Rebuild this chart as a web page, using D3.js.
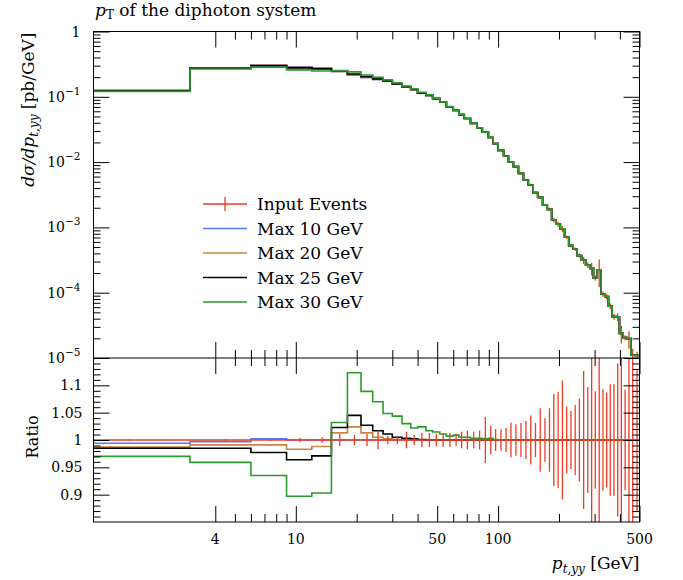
<!DOCTYPE html>
<html>
<head>
<meta charset="utf-8">
<script src="https://cdn.jsdelivr.net/npm/d3@7"></script>
<style>
  body { margin: 0; background: #fff; }
  svg text { font-family: "DejaVu Serif", "Liberation Serif", serif; fill: #000; }
</style>
</head>
<body>
<div id="chart"></div>
<script>
// Bin edges of the p_T(yy) histogram [GeV]
const binEdges = [0, 3, 6, 9, 12, 15, 18, 21, 24, 27, 30, 33.5, 37, 40, 44, 47.5, 51.5, 55.5, 60, 64,
  68, 73, 78.5, 83.5, 89.5, 94.5, 100, 106.5, 112.5, 119, 126, 133.5, 141, 149, 157, 166, 175, 184,
  193, 203, 213, 223.5, 235, 246, 258.5, 271, 284, 296, 309, 323, 337, 351, 366, 382, 398, 415, 434,
  453, 473, 500];

// Input events, dsigma/dpT [pb/GeV]
const inputEvents = [0.125, 0.278, 0.305, 0.288, 0.275, 0.245, 0.214, 0.198, 0.185, 0.173,
  0.157, 0.142, 0.129, 0.114, 0.105, 0.0936, 0.0825, 0.0701, 0.0621, 0.0535,
  0.0465, 0.0393, 0.0334, 0.0287, 0.0238, 0.0192, 0.0151, 0.0124, 0.0101, 0.0085,
  0.00673, 0.00532, 0.00446, 0.0034, 0.00289, 0.00222, 0.00189, 0.0013, 0.00112, 0.00095,
  0.00071, 0.000525, 0.000463, 0.00037, 0.000315, 0.000265, 0.000235, 0.000168, 0.000223, 0.0000955,
  0.000087, 0.0000625, 0.000043, 0.0000425, 0.0000239, 0.0000205, 0.0000198, 0.0000111, 0.000011];

// Relative uncertainty of the input events
const inputErrors = [0.0015, 0.002, 0.002, 0.004, 0.005, 0.011, 0.0097, 0.011, 0.0176, 0.0073,
  0.008, 0.015, 0.009, 0.013, 0.013, 0.0115, 0.0127, 0.013, 0.0115, 0.015,
  0.017, 0.015, 0.017, 0.042, 0.026, 0.02, 0.019, 0.022, 0.0315, 0.029,
  0.031, 0.035, 0.045, 0.031, 0.058, 0.04, 0.058, 0.084, 0.088, 0.109,
  0.061, 0.053, 0.064, 0.076, 0.126, 0.097, 0.22, 0.089, 0.45, 0.093,
  0.087, 0.102, 0.102, 0.14, 0.3, 0.092, 0.3, 0.25, 0.13];

// Ratios to the input events
const ratioMax10 = [0.994, 0.997, 1.002, 1.0, 1.0, 1.0, 1.0, 1.0, 1.0, 1.0,
  1.0, 1.0, 1.0, 1.0, 1.0, 1.0, 1.0, 1.0, 1.0, 1.0,
  1.0, 1.0, 1.0, 1.0, 1.0, 1.0, 1.0, 1.0, 1.0, 1.0,
  1.0, 1.0, 1.0, 1.0, 1.0, 1.0, 1.0, 1.0, 1.0, 1.0,
  1.0, 1.0, 1.0, 1.0, 1.0, 1.0, 1.0, 1.0, 1.0, 1.0,
  1.0, 1.0, 1.0, 1.0, 1.0, 1.0, 1.0, 1.0, 1.0];
const ratioMax20 = [0.987, 0.991, 0.991, 0.983, 0.988, 1.013, 1.024, 1.013, 1.005, 1.002,
  1.001, 1.0, 1.0, 1.0, 1.0, 1.0, 1.0, 1.0, 1.0, 1.0,
  1.0, 1.0, 1.0, 1.0, 1.0, 1.0, 1.0, 1.0, 1.0, 1.0,
  1.0, 1.0, 1.0, 1.0, 1.0, 1.0, 1.0, 1.0, 1.0, 1.0,
  1.0, 1.0, 1.0, 1.0, 1.0, 1.0, 1.0, 1.0, 1.0, 1.0,
  1.0, 1.0, 1.0, 1.0, 1.0, 1.0, 1.0, 1.0, 1.0];
const ratioMax25 = [0.985, 0.985, 0.977, 0.964, 0.971, 1.023, 1.045, 1.027, 1.017, 1.011,
  1.005, 1.003, 1.002, 1.001, 1.0, 1.0, 1.0, 1.0, 1.0, 1.0,
  1.0, 1.0, 1.0, 1.0, 1.0, 1.0, 1.0, 1.0, 1.0, 1.0,
  1.0, 1.0, 1.0, 1.0, 1.0, 1.0, 1.0, 1.0, 1.0, 1.0,
  1.0, 1.0, 1.0, 1.0, 1.0, 1.0, 1.0, 1.0, 1.0, 1.0,
  1.0, 1.0, 1.0, 1.0, 1.0, 1.0, 1.0, 1.0, 1.0];
const ratioMax30 = [0.97, 0.959, 0.935, 0.897, 0.903, 1.032, 1.123, 1.089, 1.07, 1.0485,
  1.0436, 1.03, 1.022, 1.024, 1.017, 1.0145, 1.011, 1.007, 1.009, 1.005,
  1.005, 1.003, 1.003, 1.002, 1.003, 1.001, 1.0, 1.0, 1.0, 1.0,
  1.0, 1.0, 1.0, 1.0, 1.0, 1.0, 1.0, 1.0, 1.0, 1.0,
  1.0, 1.0, 1.0, 1.0, 1.0, 1.0, 1.0, 1.0, 1.0, 1.0,
  1.0, 1.0, 1.0, 1.0, 1.0, 1.0, 1.0, 1.0, 1.0];

const seriesNames = ["Input Events", "Max 10 GeV", "Max 20 GeV", "Max 25 GeV", "Max 30 GeV"];
const seriesColors = ["#ee3b22", "#4d7cff", "#cd8240", "#000000", "#2b9b2b"];

// Axis ticks
const xMajorTicks = [4, 10, 50, 100, 500];
const xMinorTicks = [5, 6, 7, 8, 9, 20, 30, 40, 60, 70, 80, 90, 200, 300, 400];
const yMainExponents = [0, -1, -2, -3, -4, -5];
const yRatioMajor = [0.9, 0.95, 1, 1.05, 1.1];
const yRatioLabels = ["0.9", "0.95", "1", "1.05", "1.1"];

class DiphotonPlot {
  constructor(_parentElement) {
    this.parentElement = _parentElement;
    this.initVis();
  }

  initVis() {
    let vis = this;

    vis.frame = { left: 93.5, right: 639.5, top: 31.5, split: 358, bottom: 522 };

    vis.svg = d3.select("#" + vis.parentElement)
      .append("svg")
      .attr("width", 683)
      .attr("height", 580);

    // Scales
    vis.x = d3.scaleLog().domain([1, 500]).range([vis.frame.left, vis.frame.right]);
    vis.yMain = d3.scaleLog().domain([1e-5, 1]).range([vis.frame.split, vis.frame.top]);
    vis.yRatio = d3.scaleLinear().domain([0.85, 1.15]).range([vis.frame.bottom, vis.frame.split]);

    // Clip paths for the two panels
    let defs = vis.svg.append("defs");
    defs.append("clipPath").attr("id", "clip-main").append("rect")
      .attr("x", vis.frame.left).attr("y", vis.frame.top)
      .attr("width", vis.frame.right - vis.frame.left)
      .attr("height", vis.frame.split - vis.frame.top);
    defs.append("clipPath").attr("id", "clip-ratio").append("rect")
      .attr("x", vis.frame.left).attr("y", vis.frame.split)
      .attr("width", vis.frame.right - vis.frame.left)
      .attr("height", vis.frame.bottom - vis.frame.split);

    vis.mainG = vis.svg.append("g").attr("clip-path", "url(#clip-main)");
    vis.ratioG = vis.svg.append("g").attr("clip-path", "url(#clip-ratio)");
    vis.axisG = vis.svg.append("g");

    vis.wrangleData();
  }

  wrangleData() {
    let vis = this;
    let n = binEdges.length - 1;

    vis.bins = d3.range(n).map(i => ({
      lo: binEdges[i],
      hi: binEdges[i + 1],
      centre: (binEdges[i] + binEdges[i + 1]) / 2
    }));

    let ratios = [null, ratioMax10, ratioMax20, ratioMax25, ratioMax30];
    vis.series = seriesNames.map((name, k) => {
      let ratio = k === 0 ? inputEvents.map(() => 1) : ratios[k];
      return {
        name: name,
        color: seriesColors[k],
        main: inputEvents.map((v, i) => v * ratio[i]),
        ratio: ratio
      };
    });

    vis.updateVis();
  }

  stepPoints(values) {
    let pts = values.map((v, i) => ({ edge: binEdges[i], value: v }));
    pts.push({ edge: binEdges[values.length], value: values[values.length - 1] });
    return pts;
  }

  updateVis() {
    let vis = this;
    let xMin = vis.x.domain()[0];

    let mainLine = d3.line()
      .curve(d3.curveStepAfter)
      .x(d => vis.x(Math.max(d.edge, xMin)))
      .y(d => vis.yMain(d.value));
    let ratioLine = d3.line()
      .curve(d3.curveStepAfter)
      .x(d => vis.x(Math.max(d.edge, xMin)))
      .y(d => vis.yRatio(d.value));

    // ---- Main panel: input first, then the variations (green on top)
    let input = vis.series[0];
    vis.mainG.selectAll(".err-main")
      .data(vis.bins)
      .join("line")
      .attr("class", "err-main")
      .attr("x1", d => vis.x(d.centre)).attr("x2", d => vis.x(d.centre))
      .attr("y1", (d, i) => vis.yMain(input.main[i] * (1 + inputErrors[i])))
      .attr("y2", (d, i) => vis.yMain(Math.max(input.main[i] * (1 - inputErrors[i]), 1e-7)))
      .attr("stroke", input.color).attr("stroke-width", 1.3);

    vis.mainG.selectAll(".line-main")
      .data(vis.series)
      .join("path")
      .attr("class", "line-main")
      .attr("d", d => mainLine(vis.stepPoints(d.main)))
      .attr("fill", "none")
      .attr("stroke", d => d.color)
      .attr("stroke-width", 1.7);

    // ---- Ratio panel: variations first, input (at 1) with error bars on top
    vis.ratioG.selectAll(".line-ratio")
      .data(vis.series.slice(1))
      .join("path")
      .attr("class", "line-ratio")
      .attr("d", d => ratioLine(vis.stepPoints(d.ratio)))
      .attr("fill", "none")
      .attr("stroke", d => d.color)
      .attr("stroke-width", 1.6);

    vis.ratioG.append("path")
      .attr("d", ratioLine(vis.stepPoints(input.ratio)))
      .attr("fill", "none")
      .attr("stroke", input.color)
      .attr("stroke-width", 1.6);

    vis.ratioG.selectAll(".err-ratio")
      .data(vis.bins)
      .join("line")
      .attr("class", "err-ratio")
      .attr("x1", d => vis.x(d.centre)).attr("x2", d => vis.x(d.centre))
      .attr("y1", (d, i) => vis.yRatio(1 + inputErrors[i]))
      .attr("y2", (d, i) => vis.yRatio(1 - inputErrors[i]))
      .attr("stroke", input.color).attr("stroke-width", 1.3);

    vis.drawAxes();
    vis.drawLabels();
    vis.drawLegend();
  }

  drawAxes() {
    let vis = this;
    let f = vis.frame;
    let g = vis.axisG;
    let major = 16, minor = 8;

    // Frame
    g.append("rect")
      .attr("x", f.left).attr("y", f.top)
      .attr("width", f.right - f.left).attr("height", f.bottom - f.top)
      .attr("fill", "none").attr("stroke", "#000");
    g.append("line")
      .attr("x1", f.left).attr("x2", f.right)
      .attr("y1", f.split).attr("y2", f.split)
      .attr("stroke", "#000");

    let tidy = sel => {
      sel.select(".domain").remove();
      sel.selectAll(".tick line").attr("stroke", "#000");
    };

    // x ticks on every horizontal edge of both panels, pointing inward
    let xTickRows = [
      { y: f.top, make: d3.axisTop },
      { y: f.split, make: d3.axisBottom },
      { y: f.split, make: d3.axisTop },
      { y: f.bottom, make: d3.axisBottom }
    ];
    xTickRows.forEach(row => {
      g.append("g").attr("transform", `translate(0,${row.y})`)
        .call(row.make(vis.x).tickValues(xMajorTicks).tickSize(-major).tickFormat(""))
        .call(tidy);
      g.append("g").attr("transform", `translate(0,${row.y})`)
        .call(row.make(vis.x).tickValues(xMinorTicks).tickSize(-minor).tickFormat(""))
        .call(tidy);
    });

    // x labels
    g.selectAll(".x-label")
      .data(xMajorTicks)
      .join("text")
      .attr("class", "x-label")
      .attr("x", d => vis.x(d))
      .attr("y", f.bottom + 22)
      .attr("text-anchor", "middle")
      .style("font-size", "14px")
      .text(d => d);

    // Main panel y ticks
    let yMainMajor = yMainExponents.map(e => Math.pow(10, e));
    let yMainMinor = [];
    yMainExponents.slice(1).forEach(e => {
      d3.range(2, 10).forEach(m => yMainMinor.push(m * Math.pow(10, e)));
    });
    [[f.left, d3.axisLeft], [f.right, d3.axisRight]].forEach(([xPos, make]) => {
      g.append("g").attr("transform", `translate(${xPos},0)`)
        .call(make(vis.yMain).tickValues(yMainMajor).tickSize(-major).tickFormat(""))
        .call(tidy);
      g.append("g").attr("transform", `translate(${xPos},0)`)
        .call(make(vis.yMain).tickValues(yMainMinor).tickSize(-7).tickFormat(""))
        .call(tidy);
    });

    let yLab = g.selectAll(".y-main-label")
      .data(yMainExponents)
      .join("text")
      .attr("class", "y-main-label")
      .attr("x", f.left - 13)
      .attr("y", e => vis.yMain(Math.pow(10, e)) + 5)
      .attr("text-anchor", "end")
      .style("font-size", "14px");
    yLab.each(function (e) {
      let t = d3.select(this);
      if (e === 0) {
        t.text("1");
      } else {
        t.append("tspan").text("10");
        t.append("tspan").attr("dy", -7).style("font-size", "10.5px").text("\u2212" + Math.abs(e));
      }
    });

    // Ratio panel y ticks
    let yRatioMinor = d3.range(86, 115).map(v => v / 100)
      .filter(v => !yRatioMajor.some(m => Math.abs(m - v) < 1e-6));
    [[f.left, d3.axisLeft], [f.right, d3.axisRight]].forEach(([xPos, make]) => {
      g.append("g").attr("transform", `translate(${xPos},0)`)
        .call(make(vis.yRatio).tickValues(yRatioMajor).tickSize(-major).tickFormat(""))
        .call(tidy);
      g.append("g").attr("transform", `translate(${xPos},0)`)
        .call(make(vis.yRatio).tickValues(yRatioMinor).tickSize(-7).tickFormat(""))
        .call(tidy);
    });

    g.selectAll(".y-ratio-label")
      .data(yRatioMajor)
      .join("text")
      .attr("class", "y-ratio-label")
      .attr("x", f.left - 11)
      .attr("y", d => vis.yRatio(d) + 5)
      .attr("text-anchor", "end")
      .style("font-size", "14px")
      .text((d, i) => yRatioLabels[i]);
  }

  drawLabels() {
    let vis = this;
    let f = vis.frame;

    // Title
    let title = vis.svg.append("text")
      .attr("x", 95).attr("y", 16)
      .style("font-size", "17px");
    title.append("tspan").style("font-style", "italic").text("p");
    title.append("tspan").attr("dy", 3).style("font-size", "12px").text("T");
    title.append("tspan").attr("dy", -3).text(" of the diphoton system");

    // x axis title
    let xt = vis.svg.append("text")
      .attr("x", f.right).attr("y", 569)
      .attr("text-anchor", "end")
      .style("font-size", "17px");
    xt.append("tspan").style("font-style", "italic").text("p");
    xt.append("tspan").attr("dy", 4).style("font-size", "12px").style("font-style", "italic").text("t,yy");
    xt.append("tspan").attr("dy", -4).text(" [GeV]");

    // y axis title (main)
    let yt = vis.svg.append("text")
      .attr("transform", `translate(34,${f.top + 1}) rotate(-90)`)
      .attr("text-anchor", "end")
      .style("font-size", "17px");
    yt.append("tspan").style("font-style", "italic").text("d\u03C3/dp");
    yt.append("tspan").attr("dy", 4).style("font-size", "12px").style("font-style", "italic").text("t,yy");
    yt.append("tspan").attr("dy", -4).text(" [pb/GeV]");

    // y axis title (ratio)
    vis.svg.append("text")
      .attr("transform", `translate(38,437) rotate(-90)`)
      .attr("text-anchor", "middle")
      .style("font-size", "16px")
      .text("Ratio");
  }

  drawLegend() {
    let vis = this;
    let legend = vis.svg.append("g").attr("class", "legend");
    let rowY = d3.scaleLinear().domain([0, 4]).range([204, 302]);

    vis.series.forEach((s, i) => {
      let y = rowY(i);
      legend.append("line")
        .attr("x1", 203).attr("x2", 247)
        .attr("y1", y).attr("y2", y)
        .attr("stroke", s.color).attr("stroke-width", 1.6);
      if (i === 0) {
        legend.append("line")
          .attr("x1", 225).attr("x2", 225)
          .attr("y1", y - 7).attr("y2", y + 7)
          .attr("stroke", s.color).attr("stroke-width", 1.3);
      }
      legend.append("text")
        .attr("x", 257).attr("y", y + 6)
        .style("font-size", "17px")
        .text(s.name);
    });
  }
}

new DiphotonPlot("chart");
</script>
</body>
</html>
